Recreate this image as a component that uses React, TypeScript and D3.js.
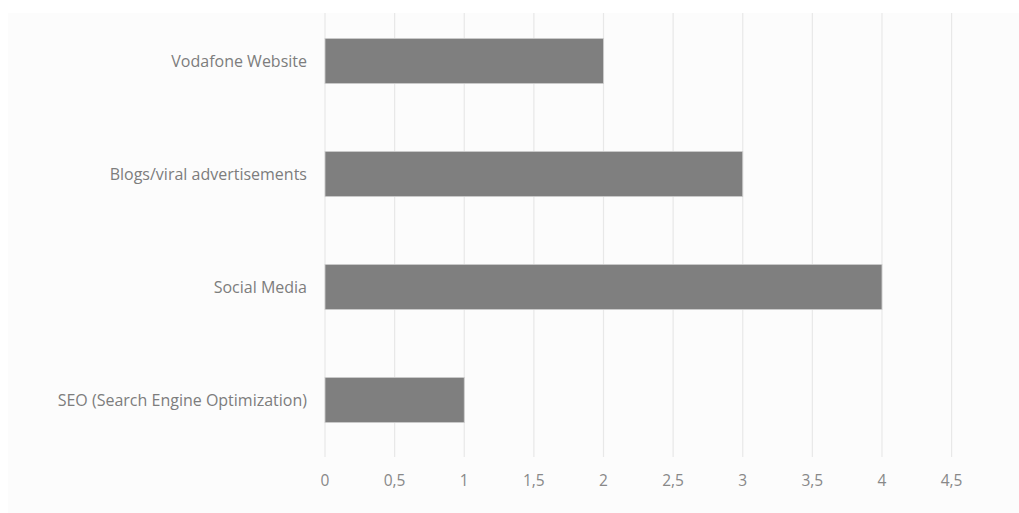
import React from "react";
import * as d3 from "d3";

const categories = [
  "Vodafone Website",
  "Blogs/viral advertisements",
  "Social Media",
  "SEO (Search Engine Optimization)",
];
const values = [2, 3, 4, 1];
const xTicks = [0, 0.5, 1, 1.5, 2, 2.5, 3, 3.5, 4, 4.5];

const W = 1019;
const H = 513;

export default function App() {
  const x = d3.scaleLinear().domain([0, 4.5]).range([325, 951.6]);
  const y = d3
    .scaleBand<string>()
    .domain(categories)
    .range([4.5, 456.5])
    .paddingInner(0.6)
    .paddingOuter(0.3);
  const fmt = (v: number) => String(v).replace(".", ",");
  const font = "'Open Sans', 'Liberation Sans', sans-serif";
  return (
    <svg
      width={W}
      height={H}
      style={{ position: "absolute", left: 0, top: 0, background: "#ffffff" }}
    >
      <rect x={8} y={13} width={W - 8} height={H - 13} fill="#fcfcfc" />
      {xTicks.map((t) => (
        <line
          key={"g" + t}
          x1={x(t)}
          x2={x(t)}
          y1={13}
          y2={457}
          stroke="#e8e8e8"
          strokeWidth={1.2}
        />
      ))}
      {categories.map((c, i) => (
        <rect
          key={c}
          x={x(0)}
          y={y(c)}
          width={x(values[i]) - x(0)}
          height={y.bandwidth()}
          fill="#7f7f7f"
          stroke="#d0d0d0"
          strokeWidth={0.8}
        />
      ))}
      {categories.map((c) => (
        <text
          key={"l" + c}
          x={307}
          y={(y(c) ?? 0) + y.bandwidth() / 2}
          textAnchor="end"
          dominantBaseline="central"
          fontFamily={font}
          fontSize={16}
          fill="#7d7d7d"
        >
          {c}
        </text>
      ))}
      {xTicks.map((t) => (
        <text
          key={"t" + t}
          x={x(t)}
          y={480}
          textAnchor="middle"
          dominantBaseline="central"
          fontFamily={font}
          fontSize={15.5}
          fill="#888888"
        >
          {fmt(t)}
        </text>
      ))}
    </svg>
  );
}
